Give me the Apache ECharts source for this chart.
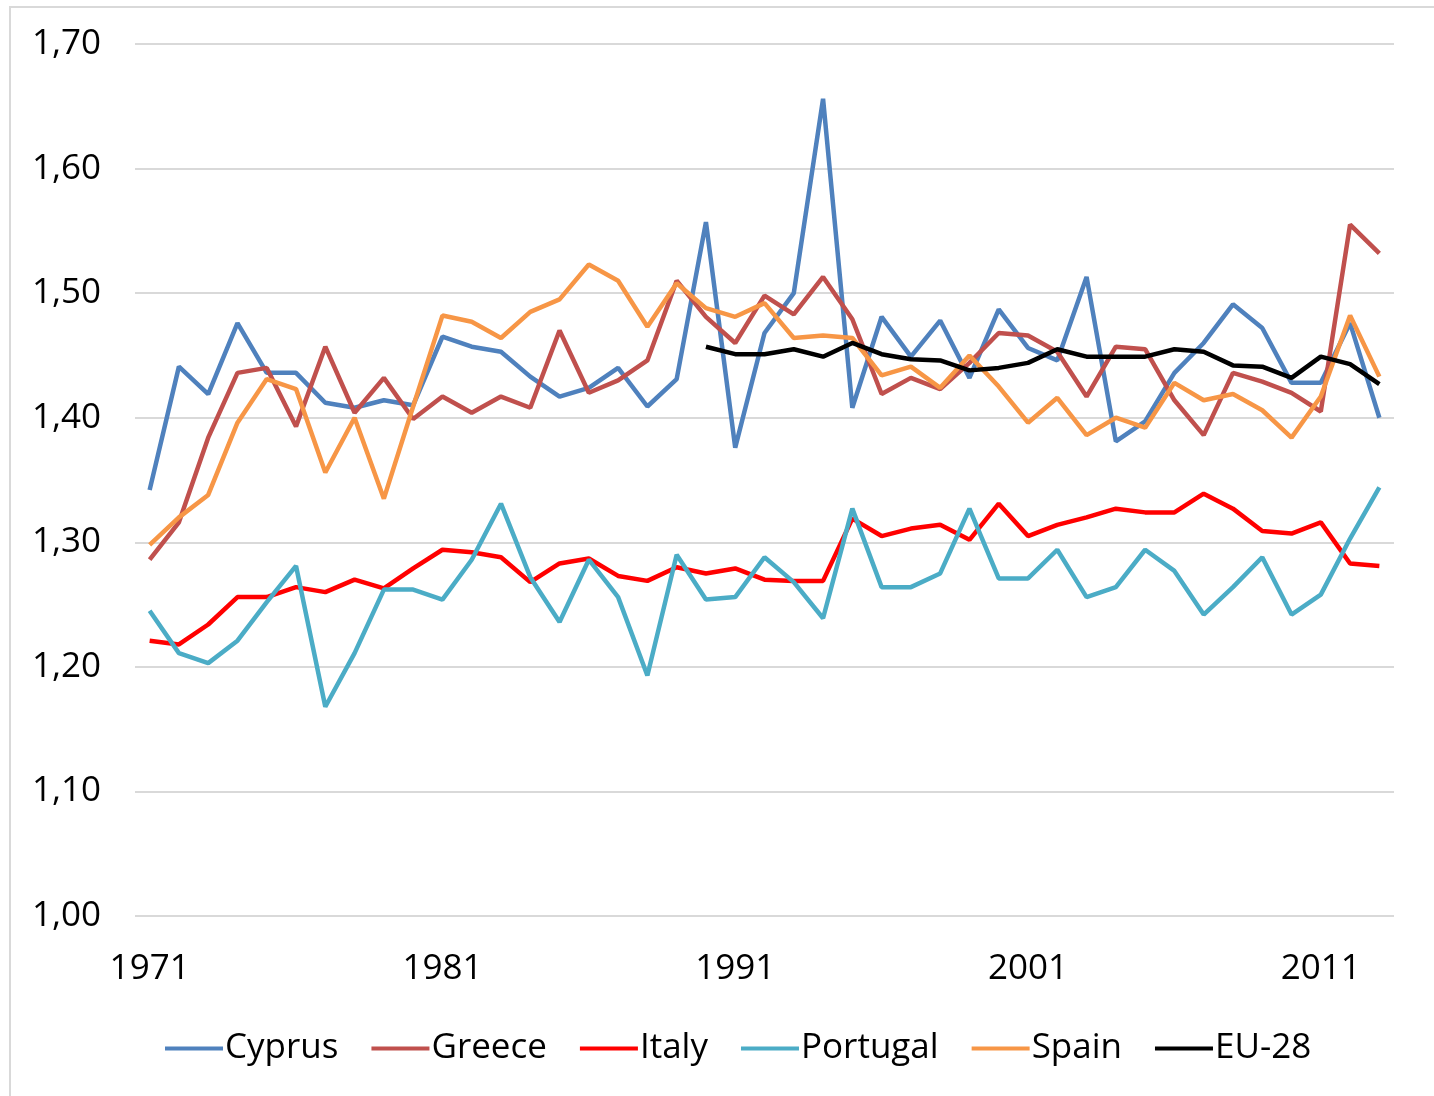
<!DOCTYPE html>
<html>
<head>
<meta charset="utf-8">
<script src="https://cdn.jsdelivr.net/npm/echarts@6/dist/echarts.min.js"></script>
<style>
html, body { margin: 0; padding: 0; background: #fff; }
#chart { position: absolute; left: 0; top: 0; width: 1434px; height: 1096px; }
#frame { position: absolute; left: 9px; top: 6px; width: 1440px; height: 1100px;
         border: 2px solid #d9d9d9; pointer-events: none; }
</style>
</head>
<body>
<div id="chart"></div>
<div id="frame"></div>
<script>
// years 1971..2013
const years = [];
for (let y = 1971; y <= 2013; y++) years.push(String(y));

const cyprus = [1.342, 1.441, 1.419, 1.476, 1.436, 1.436, 1.412, 1.408, 1.414, 1.410,
  1.465, 1.457, 1.453, 1.433, 1.417, 1.424, 1.440, 1.409, 1.431, 1.557,
  1.376, 1.468, 1.500, 1.656, 1.408, 1.481, 1.449, 1.478, 1.432, 1.487,
  1.456, 1.446, 1.513, 1.381, 1.397, 1.436, 1.460, 1.491, 1.472, 1.428,
  1.428, 1.476, 1.400];
const greece = [1.286, 1.316, 1.384, 1.436, 1.440, 1.393, 1.457, 1.404, 1.432, 1.399,
  1.417, 1.404, 1.417, 1.408, 1.470, 1.420, 1.430, 1.446, 1.510, 1.481,
  1.460, 1.498, 1.483, 1.513, 1.479, 1.419, 1.432, 1.423, 1.444, 1.468,
  1.466, 1.453, 1.417, 1.457, 1.455, 1.414, 1.386, 1.436, 1.429, 1.420,
  1.405, 1.555, 1.532];
const italy = [1.221, 1.218, 1.234, 1.256, 1.256, 1.264, 1.260, 1.270, 1.263, 1.279,
  1.294, 1.292, 1.288, 1.268, 1.283, 1.287, 1.273, 1.269, 1.280, 1.275,
  1.279, 1.270, 1.269, 1.269, 1.319, 1.305, 1.311, 1.314, 1.302, 1.331,
  1.305, 1.314, 1.320, 1.327, 1.324, 1.324, 1.339, 1.327, 1.309, 1.307,
  1.316, 1.283, 1.281];
const portugal = [1.245, 1.211, 1.203, 1.221, 1.252, 1.281, 1.168, 1.211, 1.262, 1.262,
  1.254, 1.286, 1.331, 1.272, 1.236, 1.286, 1.256, 1.193, 1.290, 1.254,
  1.256, 1.288, 1.268, 1.239, 1.327, 1.264, 1.264, 1.275, 1.327, 1.271,
  1.271, 1.294, 1.256, 1.264, 1.294, 1.277, 1.242, 1.264, 1.288, 1.242,
  1.258, 1.303, 1.344];
const spain = [1.298, 1.320, 1.338, 1.396, 1.431, 1.423, 1.356, 1.400, 1.335, 1.409,
  1.482, 1.477, 1.464, 1.485, 1.495, 1.523, 1.510, 1.473, 1.508, 1.488,
  1.481, 1.492, 1.464, 1.466, 1.464, 1.434, 1.441, 1.424, 1.450, 1.425,
  1.396, 1.416, 1.386, 1.400, 1.392, 1.428, 1.414, 1.419, 1.406, 1.384,
  1.417, 1.482, 1.433];
// EU-28 only from 1990
const eu28 = [null, null, null, null, null, null, null, null, null, null,
  null, null, null, null, null, null, null, null, null, 1.457,
  1.451, 1.451, 1.455, 1.449, 1.460, 1.451, 1.447, 1.446, 1.438, 1.440,
  1.444, 1.455, 1.449, 1.449, 1.449, 1.455, 1.453, 1.442, 1.441, 1.432,
  1.449, 1.443, 1.427];

const names = ['Cyprus', 'Greece', 'Italy', 'Portugal', 'Spain', 'EU-28'];
const colors = ['#4f81bd', '#c0504d', '#ff0000', '#4bacc6', '#f79646', '#000000'];
const values = [cyprus, greece, italy, portugal, spain, eu28];

const font = 'Open Sans';

const chart = echarts.init(document.getElementById('chart'));
chart.setOption({
  animation: false,
  color: colors,
  grid: { left: 135, right: 40, top: 44, bottom: 180 },
  legend: {
    left: 160,
    top: 1026,
    icon: 'rect',
    itemWidth: 58,
    itemHeight: 4,
    itemGap: 33,
    textStyle: { fontFamily: font, fontSize: 35, color: '#000', padding: [0, 0, 0, -3] },
    data: names
  },
  xAxis: {
    type: 'category',
    data: years,
    boundaryGap: true,
    axisLine: { show: false },
    axisTick: { show: false },
    axisLabel: { interval: 9, margin: 36, fontFamily: font, fontSize: 35, color: '#000' }
  },
  yAxis: {
    type: 'value',
    min: 1.0,
    max: 1.7,
    interval: 0.1,
    axisLine: { show: false },
    axisTick: { show: false },
    splitLine: { lineStyle: { color: '#d9d9d9', width: 2 } },
    axisLabel: {
      margin: 34,
      fontFamily: font, fontSize: 35, color: '#000',
      formatter: v => v.toFixed(2).replace('.', ',')
    }
  },
  series: names.map((n, i) => ({
    name: n,
    type: 'line',
    data: values[i],
    showSymbol: false,
    connectNulls: false,
    lineStyle: { width: 4.5, color: colors[i] },
    itemStyle: { color: colors[i] }
  }))
});
</script>
</body>
</html>
